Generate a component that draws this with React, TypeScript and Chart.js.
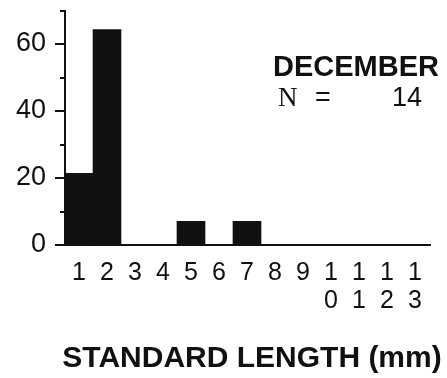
import React, { useEffect, useRef } from "react";
import { Chart, registerables } from "chart.js";

Chart.register(...registerables);

const categories: (string | string[])[] = ["1", "2", "3", "4", "5", "6", "7", "8", "9", ["1", "0"], ["1", "1"], ["1", "2"], ["1", "3"]];
const percentValues: number[] = [21.4, 64.3, 0, 0, 7.1, 0, 7.1, 0, 0, 0, 0, 0, 0];
const yTickValues: number[] = [0, 10, 20, 30, 40, 50, 60, 70];
const yLabelledTicks: number[] = [0, 20, 40, 60];
const monthLabel = "DECEMBER";
const sampleSize = "14";
const xTitle = "STANDARD LENGTH (mm)";

const SANS = "'Liberation Sans', Arial, Helvetica, sans-serif";

const overlayPlugin = {
  id: "overlay",
  afterDraw(chart: any) {
    const ctx = chart.ctx as CanvasRenderingContext2D;
    const y = chart.scales.y;
    const area = chart.chartArea;
    ctx.save();
    ctx.strokeStyle = "#111";
    ctx.lineWidth = 2;
    for (const v of yTickValues) {
      const py = Math.round(y.getPixelForValue(v));
      const len = yLabelledTicks.includes(v) ? 10 : 5;
      ctx.beginPath();
      ctx.moveTo(area.left - len, py);
      ctx.lineTo(area.left, py);
      ctx.stroke();
    }
    const by = y.getPixelForValue(0);
    ctx.beginPath();
    ctx.moveTo(area.left, by);
    ctx.lineTo(area.right + 2, by);
    ctx.stroke();

    ctx.fillStyle = "#111";
    ctx.textBaseline = "alphabetic";
    ctx.textAlign = "left";
    ctx.font = `bold 29px ${SANS}`;
    ctx.fillText(monthLabel, 273, 76);
    ctx.font = `27px 'Liberation Serif', 'DejaVu Serif', serif`;
    ctx.fillText("N", 278, 106);
    ctx.font = `27px ${SANS}`;
    ctx.fillText("=", 315, 106);
    ctx.fillText(sampleSize, 392, 106);

    ctx.textAlign = "center";
    ctx.font = `bold 30px ${SANS}`;
    ctx.fillText(xTitle, 252, 367);
    ctx.restore();
  },
};

export default function App() {
  const ref = useRef<HTMLCanvasElement | null>(null);
  useEffect(() => {
    if (!ref.current) return;
    const chart = new Chart(ref.current, {
      type: "bar",
      data: {
        labels: categories,
        datasets: [
          {
            data: percentValues,
            backgroundColor: "#111",
            borderWidth: 0,
            categoryPercentage: 1,
            barPercentage: 1,
          },
        ],
      },
      options: {
        animation: false,
        responsive: false,
        events: [],
        layout: { padding: { top: 10.5, right: 18, left: 0, bottom: 0 } },
        plugins: { legend: { display: false }, tooltip: { enabled: false } },
        scales: {
          x: {
            grid: { display: false, drawTicks: false },
            border: { display: false },
            ticks: {
              color: "#111",
              font: { family: SANS, size: 25, lineHeight: 1.12 },
              padding: 14,
              maxRotation: 0,
              autoSkip: false,
            },
            afterFit: (s: any) => {
              s.height = 133;
              s.paddingLeft = 0;
              s.paddingRight = 0;
            },
          },
          y: {
            min: 0,
            max: 70,
            grid: { display: false, drawTicks: false },
            border: { display: true, color: "#111", width: 2 },
            ticks: {
              stepSize: 10,
              color: "#111",
              font: { family: SANS, size: 27 },
              padding: 19,
              callback: (v: any) => (yLabelledTicks.includes(Number(v)) ? String(v) : ""),
            },
            afterFit: (s: any) => {
              s.width = 65;
              s.paddingTop = 0;
              s.paddingBottom = 0;
            },
          },
        },
      },
      plugins: [overlayPlugin],
    });
    return () => chart.destroy();
  }, []);
  return (
    <div style={{ position: "absolute", left: 0, top: 0, width: 447, height: 378, background: "#fff" }}>
      <canvas ref={ref} width={447} height={378} />
    </div>
  );
}
